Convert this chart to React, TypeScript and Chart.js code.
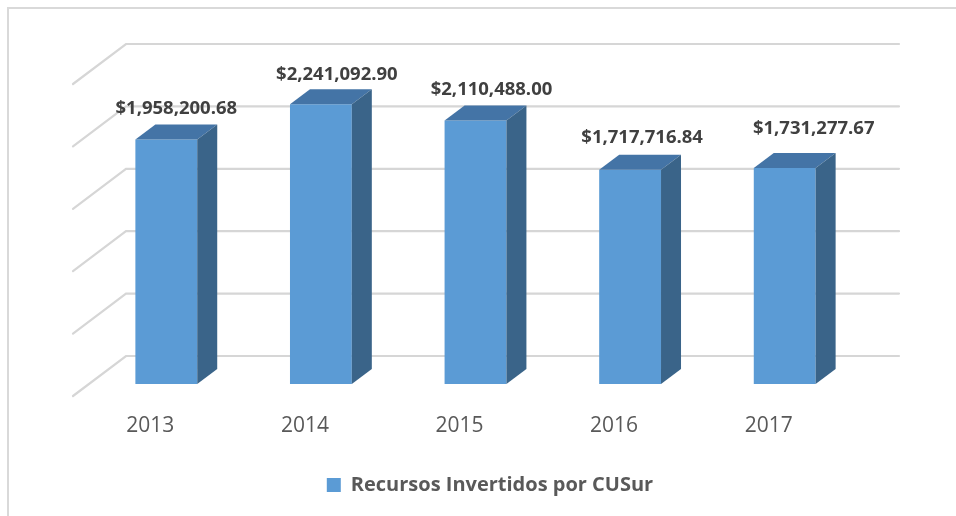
import React, { useEffect, useRef } from "react";
import { Chart, registerables } from "chart.js";

Chart.register(...registerables);

const YEARS = ["2013", "2014", "2015", "2016", "2017"];
const INVESTED = [1958200.68, 2241092.9, 2110488.0, 1717716.84, 1731277.67];
const SERIES_NAME = "Recursos Invertidos por CUSur";
const Y_MIN = 0;
const Y_MAX = 2500000;
const Y_STEP = 500000;

// styling / 3D geometry
const DEPTH_X = 20;
const DEPTH_Y = 15;
const WALL_X = 37;
const WALL_Y = 28;
const SIDE_X = 53;
const SIDE_Y = 40;
const LABEL_NUDGE_X = [10, 16, 16, 12, 29];
const LABEL_NUDGE_Y = [-11, -9, -11, -12, -19];

const FRONT = "#5b9bd5";
const TOP = "#4474a6";
const SIDE = "#3a6489";
const GRID = "#d6d6d6";

const fmt = (v: number) =>
  "$" +
  v.toLocaleString("en-US", { minimumFractionDigits: 2, maximumFractionDigits: 2 });

const threeD = {
  id: "threeD",
  beforeDatasetsDraw(chart: any) {
    const { ctx, chartArea } = chart;
    const y = chart.scales.y;
    let ticks = (y.ticks || []).map((t: any) => t.value);
    if (!ticks.length) {
      ticks = [];
      for (let v = Y_MIN; v <= Y_MAX; v += Y_STEP) ticks.push(v);
    }
    ctx.save();
    ctx.strokeStyle = GRID;
    ctx.lineWidth = 2.2;
    ctx.lineCap = "round";
    ticks.forEach((v: number) => {
      const py = y.getPixelForValue(v) - WALL_Y;
      const bx = chartArea.left + WALL_X;
      ctx.beginPath();
      ctx.moveTo(bx - SIDE_X, py + SIDE_Y);
      ctx.lineTo(bx, py);
      ctx.lineTo(chartArea.right + WALL_X, py);
      ctx.stroke();
    });
    ctx.restore();
  },
  afterDatasetsDraw(chart: any) {
    const { ctx } = chart;
    const meta = chart.getDatasetMeta(0);
    ctx.save();
    meta.data.forEach((bar: any, i: number) => {
      const { x, y, base, width } = bar.getProps(["x", "y", "base", "width"], true);
      const l = x - width / 2;
      const r = x + width / 2;
      // top face
      ctx.fillStyle = TOP;
      ctx.beginPath();
      ctx.moveTo(l, y);
      ctx.lineTo(r, y);
      ctx.lineTo(r + DEPTH_X, y - DEPTH_Y);
      ctx.lineTo(l + DEPTH_X, y - DEPTH_Y);
      ctx.closePath();
      ctx.fill();
      // side face
      ctx.fillStyle = SIDE;
      ctx.beginPath();
      ctx.moveTo(r, y);
      ctx.lineTo(r + DEPTH_X, y - DEPTH_Y);
      ctx.lineTo(r + DEPTH_X, base - DEPTH_Y);
      ctx.lineTo(r, base);
      ctx.closePath();
      ctx.fill();
      // label
      ctx.fillStyle = "#404040";
      ctx.font = "bold 18.5px 'Open Sans'";
      ctx.textAlign = "center";
      ctx.textBaseline = "alphabetic";
      ctx.fillText(
        fmt(INVESTED[i]),
        x + LABEL_NUDGE_X[i],
        y - DEPTH_Y + LABEL_NUDGE_Y[i]
      );
    });
    ctx.restore();
  },
};

export default function App() {
  const ref = useRef<HTMLCanvasElement | null>(null);
  useEffect(() => {
    if (!ref.current) return;
    const chart = new Chart(ref.current, {
      type: "bar",
      data: {
        labels: YEARS,
        datasets: [
          {
            label: SERIES_NAME,
            data: INVESTED,
            backgroundColor: FRONT,
            borderWidth: 0,
            barPercentage: 0.8,
            categoryPercentage: 0.5,
          },
        ],
      },
      options: {
        animation: false,
        responsive: false,
        layout: { padding: { left: 89, right: 65, top: 72, bottom: 11 } },
        plugins: {
          tooltip: { enabled: false },
          legend: {
            position: "bottom",
            labels: {
              boxWidth: 14,
              boxHeight: 14,
              padding: 9,
              color: "#595959",
              font: { family: "'Open Sans'", size: 20, weight: "bold" },
            },
          },
        },
        scales: {
          x: {
            grid: { display: false, drawTicks: false },
            border: { display: false },
            ticks: {
              color: "#595959",
              font: { family: "'Open Sans'", size: 21 },
              padding: 29,
              labelOffset: -16,
            },
            afterFit: (s: any) => {
              s.height = 82;
            },
          },
          y: {
            position: "right",
            min: Y_MIN,
            max: Y_MAX,
            grid: { display: false, drawTicks: false },
            border: { display: false },
            ticks: { stepSize: Y_STEP, display: false },
            afterFit: (s: any) => {
              s.width = 29;
            },
          },
        },
      },
      plugins: [threeD],
    } as any);
    return () => chart.destroy();
  }, []);
  return (
    <div
      style={{
        position: "absolute",
        left: 0,
        top: 0,
        width: 956,
        height: 516,
        overflow: "hidden",
        background: "#fff",
      }}
    >
      <div
        style={{
          position: "absolute",
          left: 7,
          top: 7,
          width: 1000,
          height: 600,
          borderTop: "2px solid #d9d9d9",
          borderLeft: "2px solid #d9d9d9",
        }}
      />
      <canvas
        ref={ref}
        width={956}
        height={516}
        style={{ position: "absolute", left: 0, top: 0 }}
      />
    </div>
  );
}
